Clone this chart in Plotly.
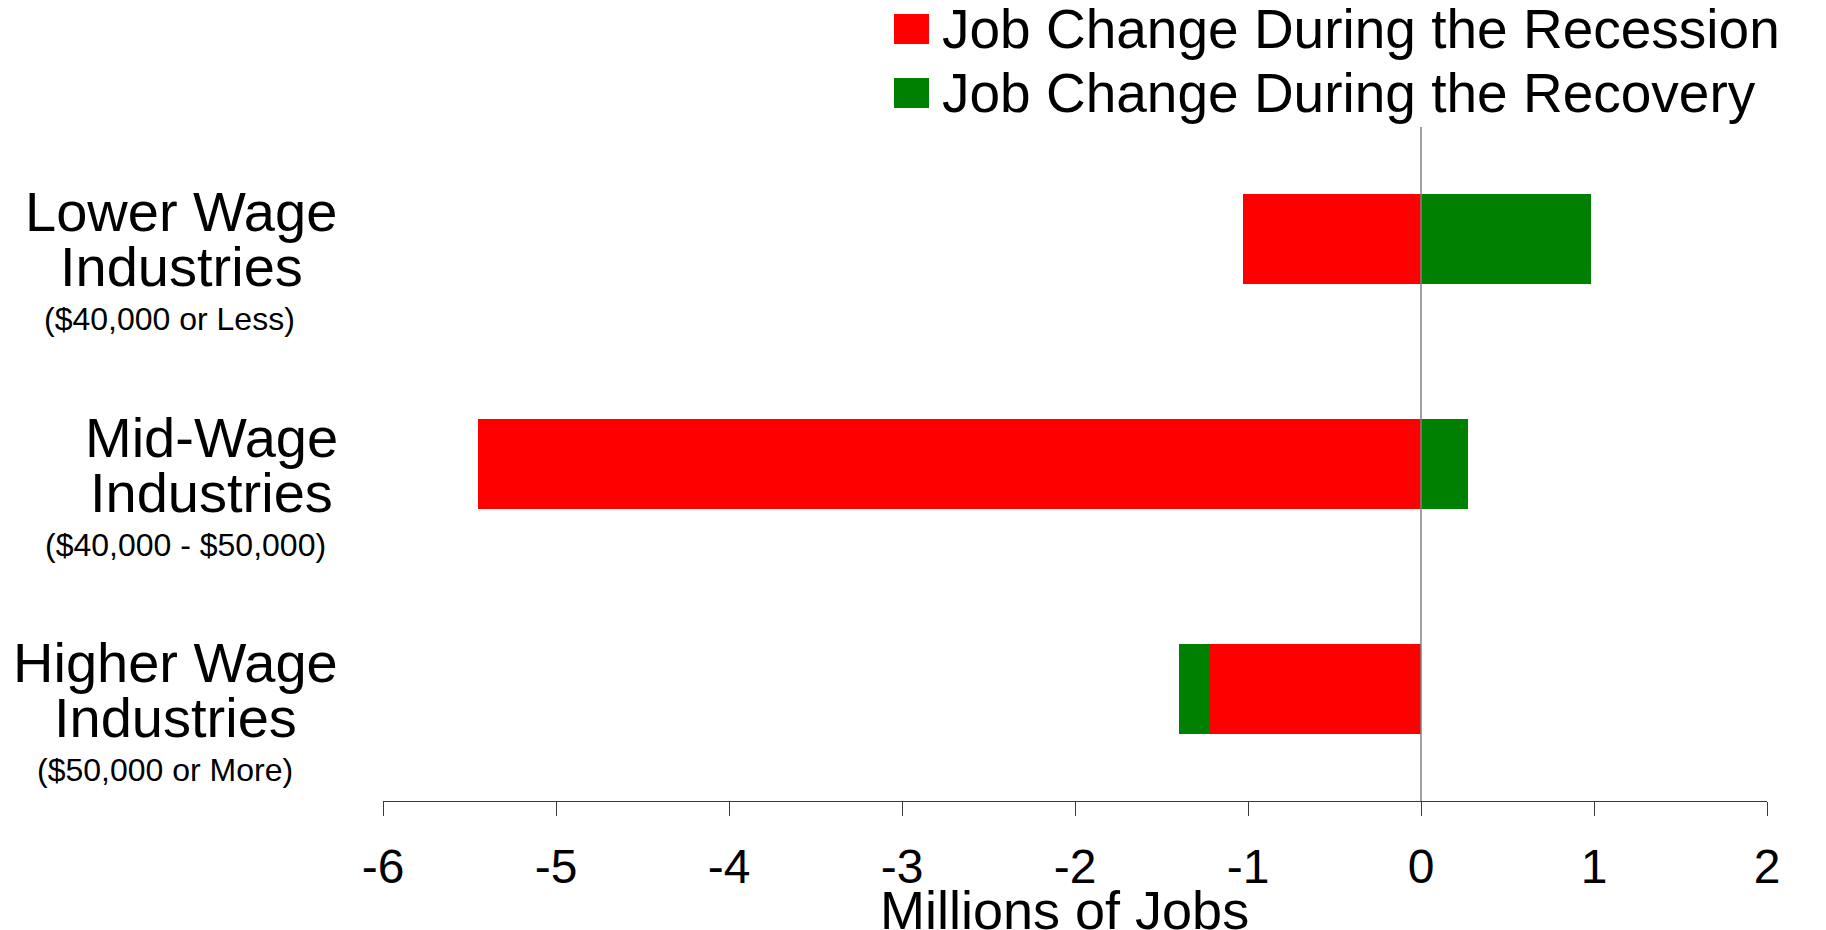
import plotly.graph_objects as go

# ---- data (millions of jobs) ----
categories = ["Lower Wage Industries", "Mid-Wage Industries", "Higher Wage Industries"]
recession = [-1.03, -5.45, -1.22]
recovery = [0.98, 0.27, -0.18]
series_names = ["Job Change During the Recession", "Job Change During the Recovery"]
x_ticks = [-6, -5, -4, -3, -2, -1, 0, 1, 2]

label_main = [("Lower Wage", "Industries"), ("Mid-Wage", "Industries"), ("Higher Wage", "Industries")]
label_sub = ["($40,000 or Less)", "($40,000 - $50,000)", "($50,000 or More)"]

# ---- layout constants ----
W, H = 1826, 930
PLOT_L, PLOT_R, PLOT_T, PLOT_B = 383, 1767, 127, 801
FONT = "Liberation Sans, Arial, Helvetica, sans-serif"
RED, GREEN = "#FF0000", "#008000"


def px_x(px):
    return (px - PLOT_L) / (PLOT_R - PLOT_L)


def px_y(py):
    return (PLOT_B - py) / (PLOT_B - PLOT_T)


fig = go.Figure()
fig.add_trace(go.Bar(y=categories, x=recession, orientation="h", name=series_names[0],
                     marker=dict(color=RED, line=dict(width=0)), width=0.4, showlegend=False))
fig.add_trace(go.Bar(y=categories, x=recovery, orientation="h", name=series_names[1],
                     marker=dict(color=GREEN, line=dict(width=0)), width=0.4, showlegend=False))

# vertical reference line at zero
fig.add_shape(type="line", xref="x", yref="paper", x0=0, x1=0, y0=0, y1=1,
              line=dict(color="#808080", width=1.5), layer="above")

annotations = []

# category labels (two main lines plus a smaller wage-range line)
main_cx = [181, 211, 175]
sub_cx = [169, 185, 165]
top_cy = [211, 437, 662]
for i in range(len(categories)):
    l1, l2 = label_main[i]
    for text, cy in ((l1, top_cy[i]), (l2, top_cy[i] + 55)):
        annotations.append(dict(text=text, xref="paper", yref="paper",
                                x=px_x(main_cx[i]), y=px_y(cy), xanchor="center", yanchor="middle",
                                showarrow=False, font=dict(family=FONT, size=56, color="black")))
    annotations.append(dict(text=label_sub[i], xref="paper", yref="paper",
                            x=px_x(sub_cx[i]), y=px_y(top_cy[i] + 108), xanchor="center", yanchor="middle",
                            showarrow=False, font=dict(family=FONT, size=32, color="black")))

# legend drawn as colour keys with text beside them
legend_rows = [(RED, 29), (GREEN, 93)]
for (color, cy), name in zip(legend_rows, series_names):
    fig.add_shape(type="rect", xref="paper", yref="paper",
                  x0=px_x(894), x1=px_x(929), y0=px_y(cy + 15), y1=px_y(cy - 15),
                  fillcolor=color, line=dict(width=0))
    annotations.append(dict(text=name, xref="paper", yref="paper",
                            x=px_x(940), y=px_y(cy), xanchor="left", yanchor="middle",
                            showarrow=False, font=dict(family=FONT, size=55, color="black")))

# x axis title
annotations.append(dict(text="Millions of Jobs", xref="paper", yref="paper",
                        x=px_x(1064), y=px_y(910), xanchor="center", yanchor="middle",
                        showarrow=False, font=dict(family=FONT, size=54, color="black")))

fig.update_layout(
    width=W, height=H,
    margin=dict(l=PLOT_L, r=W - PLOT_R, t=PLOT_T, b=H - PLOT_B, pad=0),
    paper_bgcolor="white", plot_bgcolor="white",
    barmode="relative", bargap=0,
    font=dict(family=FONT, color="black"),
    annotations=annotations,
    xaxis=dict(range=[-6, 2], tickmode="array", tickvals=x_ticks, ticktext=[str(t) for t in x_ticks],
               showgrid=False, zeroline=False, showline=True, linecolor="#3a3a3a", linewidth=1.3,
               ticks="outside", ticklen=14, tickwidth=1.3, tickcolor="#3a3a3a",
               tickfont=dict(family=FONT, size=48, color="black"), ticklabelstandoff=9,
               fixedrange=True),
    yaxis=dict(type="category", categoryorder="array", categoryarray=categories[::-1],
               range=[-0.5, 2.5], showticklabels=False, showgrid=False, zeroline=False,
               showline=False, ticks="", fixedrange=True),
)

fig.write_html("out.html")
